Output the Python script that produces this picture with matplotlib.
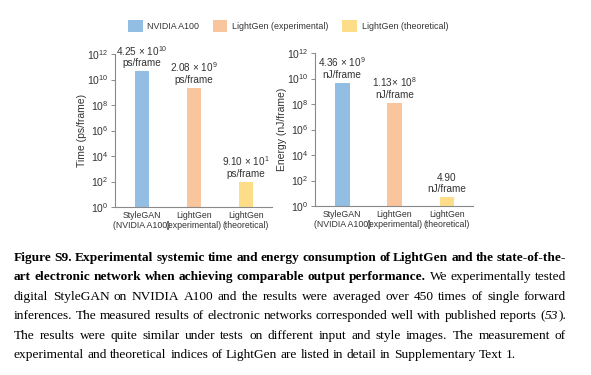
import matplotlib

matplotlib.use("Agg")
import matplotlib.pyplot as plt
from matplotlib.patches import Patch
from matplotlib.ticker import FixedLocator, NullLocator

W, H = 591, 375

categories = ["StyleGAN\n(NVIDIA A100)", "LightGen\n(experimental)", "LightGen\n(theoretical)"]
series = ["NVIDIA A100", "LightGen (experimental)", "LightGen (theoretical)"]
colors = ["#92BEE4", "#F9C59C", "#FEDD88"]

time_ps = [4.25e10, 2.08e9, 9.10e1]
time_labels = ["4.25 × 10$^{10}$\nps/frame", "2.08 × 10$^{9}$\nps/frame", "9.10 × 10$^{1}$\nps/frame"]
energy_nj = [4.36e9, 1.13e8, 4.90]
energy_labels = ["4.36 × 10$^{9}$\nnJ/frame", "1.13× 10$^{8}$\nnJ/frame", "4.90\nnJ/frame"]
yticks = [1e0, 1e2, 1e4, 1e6, 1e8, 1e10, 1e12]

# caption: each line is a list of (text, style) runs; b = bold, r = regular, i = italic
caption_lines = [
    [("Figure S9. Experimental systemic time and energy consumption of LightGen and the state-of-the-", "b")],
    [("art electronic network when achieving comparable output performance.", "b"),
     (" We experimentally tested", "r")],
    [("digital StyleGAN on NVIDIA A100 and the results were averaged over 450 times of single forward", "r")],
    [("inferences. The measured results of electronic networks corresponded well with published reports (", "r"),
     ("53", "i"), (").", "r")],
    [("The results were quite similar under tests on different input and style images. The measurement of", "r")],
    [("experimental and theoretical indices of LightGen are listed in detail in Supplementary Text 1.", "r")],
]

plt.rcParams["font.family"] = "Liberation Sans"
plt.rcParams["mathtext.fontset"] = "custom"
plt.rcParams["mathtext.rm"] = "Liberation Sans"
plt.rcParams["mathtext.it"] = "Liberation Sans:italic"
plt.rcParams["mathtext.bf"] = "Liberation Sans:bold"

TXT = "#333333"
AX = "#8a8a8a"

fig = plt.figure(figsize=(W / 100, H / 100), dpi=100)
fig.patch.set_facecolor("white")


def px_axes(left, top, right, bottom):
    return fig.add_axes([left / W, 1 - bottom / H, (right - left) / W, (bottom - top) / H])


def panel(ax, vals, labels, ylabel):
    ax.set_yscale("log")
    x = list(range(len(vals)))
    ax.bar(x, vals, width=0.28, color=colors, linewidth=0)
    ax.set_ylim(1, 1e12)
    ax.set_xlim(-0.52, 2.5)
    for xi, v, lab in zip(x, vals, labels):
        ax.annotate(lab, xy=(xi, v), xytext=(0, 2.5), textcoords="offset points",
                    ha="center", va="bottom", fontsize=7.2, color=TXT, linespacing=1.05)
    ax.yaxis.set_major_locator(FixedLocator(yticks))
    ax.yaxis.set_minor_locator(NullLocator())
    ax.set_xticks(x)
    ax.set_xticklabels(categories, fontsize=6.3, color=TXT, linespacing=1.05)
    ax.tick_params(axis="x", length=0, pad=3)
    ax.tick_params(axis="y", length=3, width=0.7, color=AX, labelsize=7.5, labelcolor=TXT, pad=2)
    for s in ("top", "right"):
        ax.spines[s].set_visible(False)
    for s in ("left", "bottom"):
        ax.spines[s].set_color(AX)
        ax.spines[s].set_linewidth(0.8)
    ax.set_ylabel(ylabel, fontsize=7.5, color=TXT, labelpad=0)


ax1 = px_axes(115, 54, 272, 207)
panel(ax1, time_ps, time_labels, "Time (ps/frame)")
ax2 = px_axes(315, 53, 473, 206)
panel(ax2, energy_nj, energy_labels, "Energy (nJ/frame)")

handles = [Patch(facecolor=c, edgecolor="none", label=s) for c, s in zip(colors, series)]
fig.legend(handles=handles, loc="center", bbox_to_anchor=(288 / W, 1 - 26 / H), ncol=3,
           frameon=False, fontsize=6.4, handlelength=1.65, handleheight=1.65,
           handletextpad=0.55, columnspacing=1.5, labelcolor=TXT)

# ---- justified caption ----
renderer = fig.canvas.get_renderer()
STYLES = {"b": dict(fontweight="bold"), "r": dict(), "i": dict(fontstyle="italic")}
CAP_LEFT, CAP_RIGHT = 14, 566
BASE0, STEP = 261, 19.4


def split_words(segs):
    words = [[]]
    for text, st in segs:
        parts = text.split(" ")
        for k, p in enumerate(parts):
            if k > 0:
                words.append([])
            if p:
                words[-1].append((p, st))
    return [w for w in words if w]


def width_of(s, st, size):
    t = fig.text(0, 0, s, fontsize=size, family="Liberation Serif", **STYLES[st])
    w = t.get_window_extent(renderer).width
    t.remove()
    return w


def natural_width(words, size):
    sp = width_of("a a", "r", size) - width_of("aa", "r", size)
    total = sum(width_of(p, st, size) for w in words for p, st in w)
    return total + sp * (len(words) - 1)


all_words = [split_words(l) for l in caption_lines]
ref = natural_width(all_words[3], 10)
cap_size = 10 * (CAP_RIGHT - CAP_LEFT) / ref * 0.995

for li, words in enumerate(all_words):
    widths = [[width_of(p, st, cap_size) for p, st in w] for w in words]
    word_w = [sum(ws) for ws in widths]
    last = li == len(all_words) - 1
    if last:
        gap = width_of("a a", "r", cap_size) - width_of("aa", "r", cap_size)
    else:
        gap = (CAP_RIGHT - CAP_LEFT - sum(word_w)) / (len(words) - 1)
    x = CAP_LEFT
    yb = 1 - (BASE0 + li * STEP) / H
    for w, ws, ww in zip(words, widths, word_w):
        xx = x
        for (p, st), pw in zip(w, ws):
            fig.text(xx / W, yb, p, fontsize=cap_size, family="Liberation Serif",
                     va="baseline", ha="left", color="black", **STYLES[st])
            xx += pw
        x += ww + gap

fig.savefig("out.png", dpi=100, facecolor="white")
